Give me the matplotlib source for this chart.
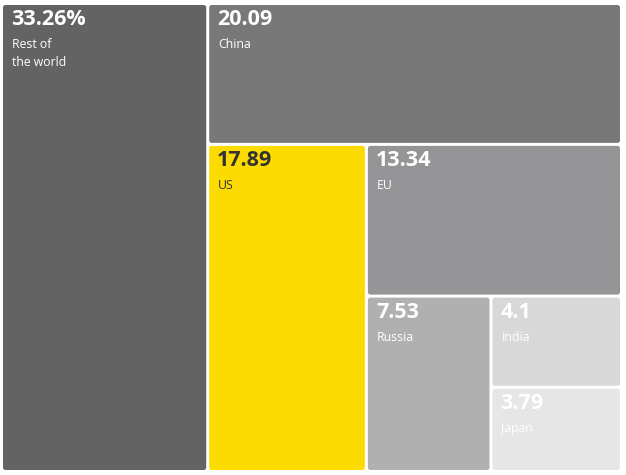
import matplotlib.pyplot as plt
from matplotlib.patches import FancyBboxPatch

# ---- data ----
labels = ["Rest of\nthe world", "China", "US", "EU", "Russia", "India", "Japan"]
values = [33.26, 20.09, 17.89, 13.34, 7.53, 4.1, 3.79]
value_text = ["33.26%", "20.09", "17.89", "13.34", "7.53", "4.1", "3.79"]
colors = ["#636363", "#787878", "#fcdb00", "#959497", "#b0b0b0", "#d8d8d8", "#e6e6e6"]
text_colors = ["white", "white", "#333333", "white", "white", "white", "white"]

# ---- slice-and-dice layout (alternate column / row) ----
def layout(vals, x, y, w, h, vertical=True):
    rects = []
    rest = sum(vals)
    for i, v in enumerate(vals):
        if i == len(vals) - 1:
            rects.append((x, y, w, h))
            break
        if vertical:
            cw = w * v / rest
            rects.append((x, y, cw, h))
            x += cw
            w -= cw
        else:
            ch = h * v / rest
            rects.append((x, y, w, ch))
            y += ch
            h -= ch
        rest -= v
        vertical = not vertical
    return rects

rects = layout(values, 3, 5, 620, 468)

fig = plt.figure(figsize=(6.26, 4.75), dpi=100)
ax = fig.add_axes([0, 0, 1, 1])
ax.set_xlim(0, 626)
ax.set_ylim(475, 0)
ax.axis("off")

gap = 3
for (x, y, w, h), lab, vt, c, tc in zip(rects, labels, value_text, colors, text_colors):
    ax.add_patch(FancyBboxPatch((x, y), w - gap, h - gap,
                                boxstyle="round,pad=0,rounding_size=2.5",
                                fc=c, ec="none"))
    ax.text(x + 8, y + 4, vt, color=tc, fontsize=15.5, fontweight="bold",
            family="Open Sans", va="top", ha="left")
    ax.text(x + 9, y + 33, lab, color=tc, fontsize=8.8, family="Open Sans",
            va="top", ha="left", linespacing=1.5)

fig.savefig("out.png", dpi=100)
